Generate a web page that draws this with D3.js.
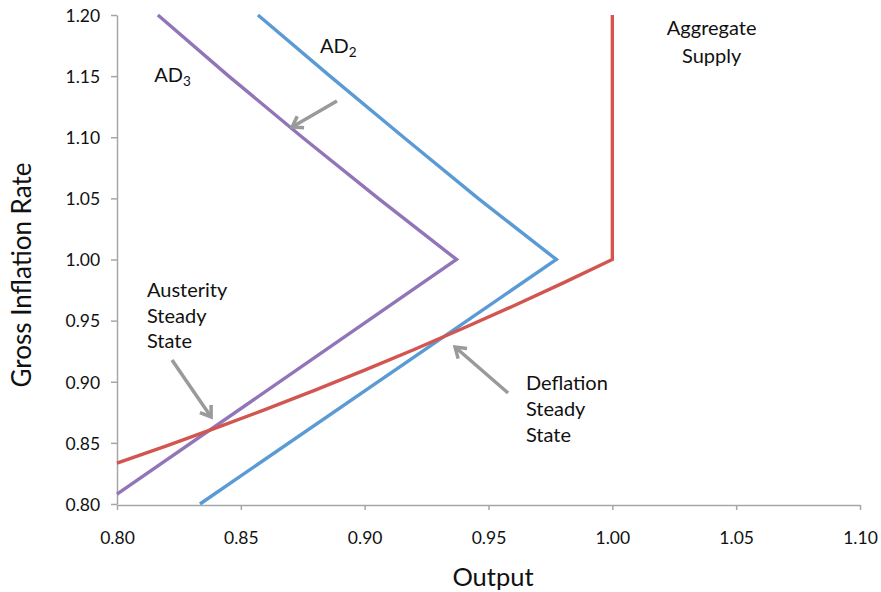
<!DOCTYPE html>
<html><head><meta charset="utf-8">
<script src="https://cdn.jsdelivr.net/npm/d3@7"></script>
<style>
body{margin:0;background:#fff;}
svg{display:block;font-family:Lato,"Open Sans",sans-serif;}
</style></head>
<body><svg id="c" width="881" height="592"></svg>
<script>
// ---- data ----
const xTicks = [0.80,0.85,0.90,0.95,1.00,1.05,1.10];
const yTicks = [0.80,0.85,0.90,0.95,1.00,1.05,1.10,1.15,1.20];

const asX = [0.80,0.82,0.84,0.86,0.88,0.90,0.92,0.94,0.96,0.98,1.00,1.00];
const asY = [0.8335,0.8475,0.8622,0.8774,0.8931,0.9095,0.9264,0.9440,0.9620,0.9807,1.00,1.20];

const ad2X = [0.8335,0.9774,0.9458,0.9157,0.8860,0.8569];
const ad2Y = [0.80,1.00,1.05,1.10,1.15,1.20];

const ad3X = [0.80,0.9371,0.9055,0.8748,0.8451,0.8165];
const ad3Y = [0.808,1.00,1.05,1.10,1.15,1.20];

const arrows = [
  {x1:0.8888,y1:1.1297,x2:0.8707,y2:1.1084},
  {x1:0.8222,y1:0.9178,x2:0.8380,y2:0.8712},
  {x1:0.9579,y1:0.8908,x2:0.9365,y2:0.9284}
];

// ---- chart ----
const svg = d3.select("#c");
const x = d3.scaleLinear().domain([0.8,1.1]).range([117,860]);
const y = d3.scaleLinear().domain([0.8,1.2]).range([504,15]);
const axisColor = "#a6a6a6";

const gx = svg.append("g").attr("transform","translate(0,505)")
  .call(d3.axisBottom(x).tickValues(xTicks).tickFormat(d3.format(".2f")).tickSize(5).tickSizeOuter(0));
const gy = svg.append("g").attr("transform","translate(117,0)")
  .call(d3.axisLeft(y).tickValues(yTicks).tickFormat(d3.format(".2f")).tickSize(6).tickSizeOuter(0));
[gx,gy].forEach(g=>{
  g.selectAll("path,line").attr("stroke",axisColor).attr("stroke-width",1.5);
  g.selectAll("text").attr("fill","#111").style("font-size","17.5px").style("font-family","Lato,sans-serif");
});
gx.selectAll("text").attr("dy","1.75em");
gy.selectAll("text").attr("dx","-0.45em").attr("dy","0.36em");

const line = d3.line().x(d=>x(d[0])).y(d=>y(d[1]));
function draw(xs,ys,color){
  svg.append("path").datum(xs.map((v,i)=>[v,ys[i]]))
    .attr("d",line).attr("fill","none").attr("stroke",color)
    .attr("stroke-width",3.4).attr("stroke-linejoin","miter");
}
draw(ad3X,ad3Y,"#9274b8");
draw(ad2X,ad2Y,"#5b9bd5");
draw(asX,asY,"#d2564f");

// arrows
const arrowCol = "#9a9a9a";
arrows.forEach(a=>{
  const X1=x(a.x1),Y1=y(a.y1),X2=x(a.x2),Y2=y(a.y2);
  const ang=Math.atan2(Y2-Y1,X2-X1), L=12, w=0.6;
  svg.append("line").attr("x1",X1).attr("y1",Y1).attr("x2",X2).attr("y2",Y2)
    .attr("stroke",arrowCol).attr("stroke-width",3.5);
  const p=[[X2-L*Math.cos(ang-w),Y2-L*Math.sin(ang-w)],[X2,Y2],[X2-L*Math.cos(ang+w),Y2-L*Math.sin(ang+w)]];
  svg.append("polyline").attr("points",p.map(q=>q.join(",")).join(" "))
    .attr("fill","none").attr("stroke",arrowCol).attr("stroke-width",3.5)
    .attr("stroke-linejoin","miter").attr("stroke-linecap","butt");
});

// labels
const lbl = svg.append("g").style("font-size","20px").attr("fill","#111");
function sub(main,s,px,py){
  const t=lbl.append("text").attr("x",x(px)).attr("y",y(py));
  t.append("tspan").text(main);
  t.append("tspan").attr("dy","0.3em").style("font-size","13.5px").text(s);
}
sub("AD","2",0.882,1.1689);
sub("AD","3",0.815,1.1452);
function multi(lines,px,py,anchor,lh){
  const t=lbl.append("text").attr("text-anchor",anchor);
  lines.forEach((s,i)=>t.append("tspan").attr("x",x(px)).attr("y",y(py)+i*lh).text(s));
}
multi(["Aggregate","Supply"],1.0401,1.1836,"middle",27.5);
multi(["Austerity","Steady","State"],0.8121,0.9693,"start",25.5);
multi(["Deflation","Steady","State"],0.9651,0.8932,"start",26);

svg.append("text").attr("x",493).attr("y",586).attr("text-anchor","middle")
  .style("font-size","25.5px").attr("fill","#111").text("Output");
svg.append("text").attr("transform","translate(31,275) rotate(-90)").attr("text-anchor","middle")
  .style("font-size","26px").attr("fill","#111").text("Gross Inflation Rate");
</script></body></html>
